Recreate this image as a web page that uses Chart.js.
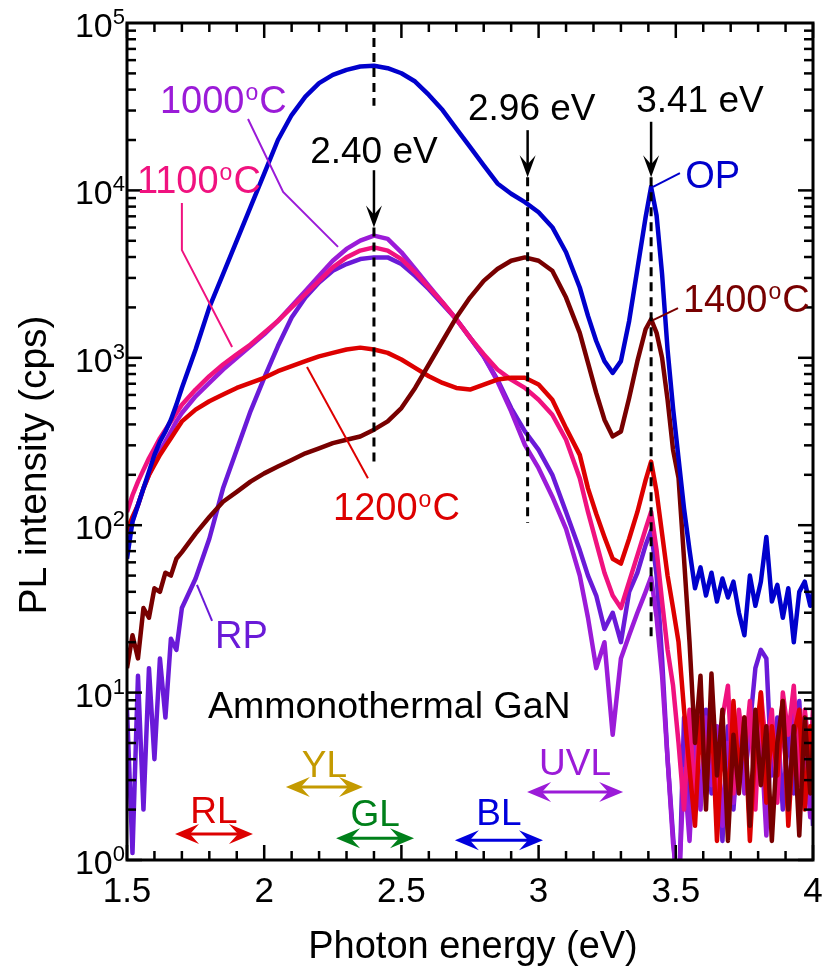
<!DOCTYPE html>
<html>
<head>
<meta charset="utf-8">
<script src="https://cdn.jsdelivr.net/npm/chart.js@4.4.0/dist/chart.umd.min.js"></script>
<style>
  html, body { margin: 0; padding: 0; background: #fff; }
  #wrap { width: 827px; height: 973px; }
</style>
</head>
<body>
<div id="wrap"><canvas id="pl-chart" width="827" height="973"></canvas></div>
<script>
// Photon energy grid (eV)
const energy = [1.50, 1.52, 1.54, 1.56, 1.58, 1.60, 1.62, 1.64, 1.66, 1.68, 1.70,
  1.75, 1.80, 1.85, 1.90, 1.95, 2.00, 2.05, 2.10, 2.15, 2.20, 2.25, 2.30, 2.35, 2.40, 2.45, 2.50,
  2.55, 2.60, 2.65, 2.70, 2.75, 2.80, 2.85, 2.90, 2.95, 3.00, 3.05, 3.10, 3.15,
  3.18, 3.21, 3.24, 3.27, 3.30, 3.33, 3.36, 3.39,
  3.41, 3.43, 3.45, 3.47, 3.49,
  3.51, 3.53, 3.55, 3.57, 3.59, 3.61, 3.63, 3.65, 3.67, 3.69, 3.71, 3.73, 3.75, 3.77, 3.79,
  3.81, 3.83, 3.85, 3.87, 3.89, 3.91, 3.93, 3.95, 3.97, 3.99, 4.00];

// PL intensity (cps), one array per sample
const opData = [63, 105, 132, 166, 209, 263, 316, 363, 427, 525, 660,
  1120, 2000, 3160, 5010, 7940, 12600, 20000, 28200, 36300, 43700, 49000, 52500, 55000, 55600, 53700, 50100,
  44700, 37200, 30200, 23400, 18200, 14100, 11000, 9550, 8510, 7410, 6030, 4270, 2630,
  1780, 1260, 955, 813, 955, 1660, 3390, 6920,
  10500, 7080, 3160, 1120, 500,
  250, 126, 71, 42, 56, 38, 52, 35, 48, 37, 46, 30, 22, 50, 33,
  46, 85, 35, 44, 28, 42, 20, 40, 46, 33, 40];
const t1000 = [79, 105, 132, 166, 200, 234, 275, 316, 363, 417, 468,
  589, 708, 851, 1000, 1175, 1380, 1660, 2040, 2510, 3090, 3800, 4470, 5010, 5370, 5130, 4270,
  3390, 2690, 2140, 1700, 1320, 1020, 724, 479, 302, 219, 148, 95, 50,
  28, 14, 20, 5.6, 16, 22, 30, 40,
  49, 28, 12.6, 4.0, 1.26,
  0.63, 3.5, 1.3, 5.6, 2.0, 7.1, 2.8, 6.3, 1.6, 5.0, 2.2, 7.1, 2.5, 7.9, 3.2,
  5.6, 1.4, 6.3, 2.8, 7.6, 2.0, 7.9, 3.2, 5.0, 1.8, 4.0];
const t1100 = [120, 151, 182, 214, 251, 288, 331, 372, 417, 468, 525,
  646, 776, 912, 1050, 1200, 1410, 1660, 2000, 2400, 2880, 3470, 3980, 4370, 4570, 4370, 3890,
  3240, 2630, 2140, 1700, 1320, 1050, 851, 741, 661, 562, 457, 324, 191,
  120, 79, 52, 38, 32, 46, 66, 95,
  120, 71, 35, 18, 11,
  5.0, 2.0, 7.9, 2.0, 10, 3.2, 8.9, 1.6, 7.1, 11, 2.5, 7.9, 4.0, 8.9, 2.0,
  10, 4.5, 7.9, 2.2, 10, 5.6, 11, 2.8, 7.9, 4.0, 7.9];
const t1200 = [93, 112, 132, 166, 200, 229, 263, 295, 331, 372, 417,
  490, 550, 603, 661, 708, 759, 832, 891, 955, 1020, 1070, 1120, 1150, 1120, 1070, 977,
  871, 776, 708, 661, 646, 692, 741, 759, 759, 692, 562, 380, 263,
  166, 117, 85, 63, 59, 83, 120, 186,
  240, 158, 89, 50, 32,
  20, 7.9, 3.5, 1.6, 7.1, 2.5, 7.9, 1.3, 5.6, 2.0, 8.9, 3.2, 7.1, 1.3, 5.0,
  10, 2.2, 6.3, 3.2, 8.9, 1.6, 5.6, 7.9, 2.0, 6.3, 3.2];
const t1400 = [14, 22, 16, 32, 28, 42, 40, 52, 50, 63, 69,
  89, 112, 138, 158, 182, 204, 224, 245, 269, 288, 309, 324, 339, 372, 417, 501,
  661, 912, 1260, 1740, 2290, 2880, 3390, 3800, 3980, 3800, 3310, 2290, 1410,
  933, 617, 427, 339, 363, 575, 955, 1480,
  1700, 1410, 1000, 562, 282,
  191, 63, 20, 5.0, 12.6, 2.0, 13, 3.2, 7.9, 1.3, 5.6, 2.5, 7.1, 1.6, 7.9,
  2.8, 6.3, 1.3, 5.0, 8.9, 2.0, 6.3, 1.4, 7.1, 2.5, 5.0];
const rpData = [7.9, 1.1, 12.6, 2.0, 14, 4.0, 16, 7.1, 21, 18, 32,
  48, 83, 166, 282, 479, 759, 1175, 1740, 2290, 2820, 3310, 3630, 3890, 3980, 3980, 3630,
  3090, 2570, 2090, 1700, 1320, 1020, 741, 501, 363, 282, 200, 120, 71,
  50, 38, 24, 30, 20, 40, 52, 76,
  93, 50, 16, 4.0, 1.4,
  0.5, 7.1, 1.6, 5.6, 2.2, 7.9, 2.5, 5.0, 1.3, 6.3, 2.0, 5.6, 2.8, 6.3, 14,
  18, 16, 3.2, 7.1, 2.0, 6.3, 2.5, 8.9, 2.2, 5.0, 1.6];

// axis ticks
const xTickValues = [1.5, 2, 2.5, 3, 3.5, 4];
const xTickLabels = ['1.5', '2', '2.5', '3', '3.5', '4'];
const yTickExponents = [0, 1, 2, 3, 4, 5];

// marked peak energies (eV)
const peakEnergies = [2.40, 2.96, 3.41];
const peakLabels = ['2.40 eV', '2.96 eV', '3.41 eV'];

// emission band ranges (eV)
const bandNames = ['RL', 'YL', 'GL', 'BL', 'UVL'];
const bandFrom = [1.675, 2.079, 2.262, 2.695, 2.958];
const bandTo = [1.959, 2.360, 2.546, 3.016, 3.308];

const FONT = '"Liberation Sans", Arial, sans-serif';
const C = {
  op: '#0000cc', t1000: '#9b1bd8', t1100: '#f0127f', t1200: '#dd0000',
  t1400: '#780000', rp: '#6a1ad8',
  bands: ['#dd0000', '#c49a00', '#00801a', '#0000dd', '#9b1bd8']
};

const toPoints = arr => arr.map((v, i) => ({ x: energy[i], y: v }));

function series(label, data, color) {
  return {
    label, data: toPoints(data), borderColor: color, backgroundColor: color,
    borderWidth: 4.5, pointRadius: 0, fill: false, tension: 0,
    borderJoinStyle: 'round'
  };
}

function text(ctx, s, x, y, size, color, align) {
  ctx.font = size + 'px ' + FONT;
  ctx.fillStyle = color;
  ctx.textAlign = align || 'left';
  ctx.textBaseline = 'alphabetic';
  ctx.fillText(s, x, y);
}

// "1000oC" with raised small o
function tempLabel(ctx, num, x, y, color) {
  const size = 38;
  text(ctx, num, x, y, size, color);
  ctx.font = size + 'px ' + FONT;
  let w = ctx.measureText(num).width + 1;
  text(ctx, 'o', x + w, y - 13, 23, color);
  ctx.font = '23px ' + FONT;
  w += ctx.measureText('o').width + 1;
  text(ctx, 'C', x + w, y, size, color);
}

function polyline(ctx, pts, color, width) {
  ctx.beginPath();
  ctx.strokeStyle = color;
  ctx.lineWidth = width;
  pts.forEach((p, i) => (i ? ctx.lineTo(p[0], p[1]) : ctx.moveTo(p[0], p[1])));
  ctx.stroke();
}

function downArrow(ctx, x, y0, y1) {
  ctx.setLineDash([]);
  polyline(ctx, [[x, y0], [x, y1 - 8]], '#000', 2.5);
  ctx.beginPath();
  ctx.moveTo(x, y1);
  ctx.lineTo(x - 8, y1 - 22);
  ctx.lineTo(x, y1 - 13);
  ctx.lineTo(x + 8, y1 - 22);
  ctx.closePath();
  ctx.fillStyle = '#000';
  ctx.fill();
}

function doubleArrow(ctx, x0, x1, y, color) {
  ctx.setLineDash([]);
  polyline(ctx, [[x0 + 10, y], [x1 - 10, y]], color, 3);
  ctx.fillStyle = color;
  [[x0, 1], [x1, -1]].forEach(([tx, d]) => {
    ctx.beginPath();
    ctx.moveTo(tx, y);
    ctx.lineTo(tx + d * 24, y - 10);
    ctx.lineTo(tx + d * 15, y);
    ctx.lineTo(tx + d * 24, y + 10);
    ctx.closePath();
    ctx.fill();
  });
}

const decorations = {
  id: 'decorations',
  afterDraw(chart) {
    const { ctx, chartArea: a, scales: { x, y } } = chart;
    const X = v => x.getPixelForValue(v);
    const Y = v => y.getPixelForValue(v);
    ctx.save();

    // frame
    ctx.strokeStyle = '#000';
    ctx.lineWidth = 3;
    ctx.strokeRect(a.left, a.top, a.right - a.left, a.bottom - a.top);

    // x tick marks, inside, top and bottom
    for (let i = 15; i <= 40; i++) {
      const px = X(i / 10);
      const len = i % 5 === 0 ? 15 : 9;
      polyline(ctx, [[px, a.bottom], [px, a.bottom - len]], '#000', 2.5);
      polyline(ctx, [[px, a.top], [px, a.top + len]], '#000', 2.5);
    }
    // y tick marks, inside, left and right
    for (let k = 0; k < 5; k++) {
      for (let m = 1; m <= 9; m++) {
        const py = Y(m * Math.pow(10, k));
        const len = m === 1 ? 15 : 9;
        polyline(ctx, [[a.left, py], [a.left + len, py]], '#000', 2.5);
        polyline(ctx, [[a.right, py], [a.right - len, py]], '#000', 2.5);
      }
    }

    // tick labels
    xTickValues.forEach((v, i) => text(ctx, xTickLabels[i], X(v), a.bottom + 42, 35, '#000', 'center'));
    yTickExponents.forEach(k => {
      const py = Y(Math.pow(10, k));
      ctx.font = '22px ' + FONT;
      const sw = ctx.measureText(String(k)).width;
      const right = a.left - 2;
      text(ctx, String(k), right - sw, py + 1, 22, '#000', 'left');
      text(ctx, '10', right - sw, py + 14, 34, '#000', 'right');
    });

    // axis titles
    text(ctx, 'Photon energy (eV)', 473, 958, 38, '#000', 'center');
    ctx.save();
    ctx.translate(46, 465);
    ctx.rotate(-Math.PI / 2);
    text(ctx, 'PL intensity (cps)', 0, 0, 39, '#000', 'center');
    ctx.restore();

    // peak markers: dashed lines + arrows
    ctx.setLineDash([9, 6]);
    polyline(ctx, [[X(2.40), a.top], [X(2.40), Y(3.2e4)]], '#000', 3);
    polyline(ctx, [[X(2.40), Y(6.0e3)], [X(2.40), Y(229)]], '#000', 3);
    polyline(ctx, [[X(2.96), Y(1.2e4)], [X(2.96), Y(103)]], '#000', 3);
    polyline(ctx, [[X(3.41), Y(1.2e4)], [X(3.41), Y(20.6)]], '#000', 3);
    ctx.setLineDash([]);
    downArrow(ctx, X(2.40), Y(1.32e4), Y(6.0e3));
    downArrow(ctx, X(2.96), Y(2.29e4), Y(1.2e4));
    downArrow(ctx, X(3.41), Y(2.57e4), Y(1.2e4));
    text(ctx, peakLabels[0], X(2.40), Y(1.46e4), 37, '#000', 'center');
    text(ctx, peakLabels[1], X(2.975), Y(2.63e4), 37, '#000', 'center');
    text(ctx, peakLabels[2], X(3.588), Y(2.94e4), 37, '#000', 'center');

    // sample labels and leader lines
    polyline(ctx, [[X(1.941), Y(2.67e4)], [X(2.069), Y(9.8e3)], [X(2.269), Y(4.6e3)]], C.t1000, 2);
    polyline(ctx, [[X(1.700), Y(8.4e3)], [X(1.700), Y(4.4e3)], [X(1.883), Y(1.16e3)]], C.t1100, 2);
    polyline(ctx, [[X(2.156), Y(881)], [X(2.378), Y(191)]], C.t1200, 2);
    polyline(ctx, [[X(3.417), Y(1.68e3)], [X(3.508), Y(1.98e3)]], C.t1400, 2);
    polyline(ctx, [[X(3.417), Y(1.05e4)], [X(3.515), Y(1.27e4)]], C.op, 2);
    polyline(ctx, [[X(1.755), Y(44)], [X(1.810), Y(26.8)]], C.rp, 2);
    tempLabel(ctx, '1000', X(1.620), Y(2.9e4), C.t1000);
    tempLabel(ctx, '1100', X(1.536), Y(9.6e3), C.t1100);
    tempLabel(ctx, '1200', X(2.251), Y(107), C.t1200);
    tempLabel(ctx, '1400', X(3.526), Y(1.88e3), C.t1400);
    text(ctx, 'OP', X(3.534), Y(1.03e4), 38, C.op);
    text(ctx, 'RP', X(1.821), Y(18.5), 38, C.rp);
    text(ctx, 'Ammonothermal GaN', X(1.795), Y(7.05), 37.5, '#000');

    // emission bands
    const bandTextY = [1.66, 3.13, 1.60, 1.62, 3.22];
    const bandArrowY = [1.43, 2.73, 1.35, 1.31, 2.55];
    bandNames.forEach((n, i) => {
      const x0 = X(bandFrom[i]), x1 = X(bandTo[i]);
      text(ctx, n, (x0 + x1) / 2, Y(bandTextY[i]), 37, C.bands[i], 'center');
      doubleArrow(ctx, x0, x1, Y(bandArrowY[i]), C.bands[i]);
    });

    ctx.restore();
  }
};

new Chart(document.getElementById('pl-chart'), {
  type: 'line',
  data: {
    datasets: [
      series('OP', opData, C.op),
      series('1400\u00b0C', t1400, C.t1400),
      series('1200\u00b0C', t1200, C.t1200),
      series('1100\u00b0C', t1100, C.t1100),
      series('1000\u00b0C', t1000, C.t1000),
      series('RP', rpData, C.rp)
    ]
  },
  options: {
    responsive: false,
    devicePixelRatio: 1,
    animation: false,
    layout: { padding: { left: 127, right: 14, top: 23, bottom: 113 } },
    plugins: { legend: { display: false }, tooltip: { enabled: false } },
    scales: {
      x: { type: 'linear', min: 1.5, max: 4, display: false },
      y: { type: 'logarithmic', min: 1, max: 1e5, display: false }
    }
  },
  plugins: [decorations]
});
</script>
</body>
</html>
